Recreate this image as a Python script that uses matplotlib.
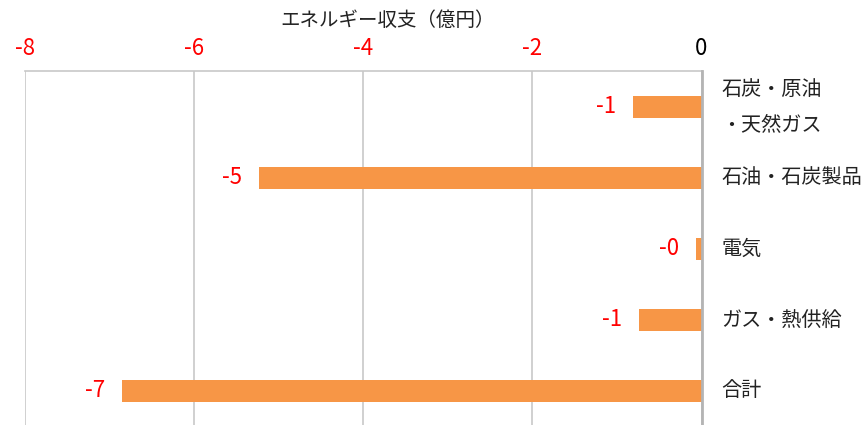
import matplotlib
matplotlib.use("Agg")
import matplotlib.pyplot as plt
import matplotlib.transforms as mtransforms

plt.rcParams['font.family'] = ['Noto Sans CJK JP', 'DejaVu Sans']
plt.rcParams['axes.unicode_minus'] = False

categories = ["石炭・原油\n・天然ガス", "石油・石炭製品", "電気", "ガス・熱供給", "合計"]
values = [-0.81, -5.23, -0.065, -0.74, -6.85]
x_ticks = [-8, -6, -4, -2, 0]
axis_title = "エネルギー収支（億円）"

W, H = 866, 425
fig = plt.figure(figsize=(W / 100, H / 100), dpi=100)
left, right, top, bottom = 24.5, 701.5, 71.5, 426.5
ax = fig.add_axes([left / W, 1 - bottom / H, (right - left) / W, (bottom - top) / H])

bar_color = "#F79646"
ypos = list(range(len(categories)))
ax.barh(ypos, values, height=0.31, color=bar_color, zorder=3)

ax.set_xlim(-8, 0)
ax.set_ylim(len(categories) - 0.5, -0.5)
ax.set_xticks(x_ticks)
ax.set_xticklabels([str(t) for t in x_ticks])
ax.xaxis.tick_top()
ax.tick_params(axis='x', length=0, pad=8, labelsize=16)
for lbl, t in zip(ax.get_xticklabels(), x_ticks):
    lbl.set_color("red" if t < 0 else "black")
ax.set_yticks([])

ax.grid(axis='x', color="#C8C8C8", linewidth=1.2, zorder=0)
for side in ("left", "bottom"):
    ax.spines[side].set_visible(False)
ax.spines["top"].set_color("#C8C8C8")
ax.spines["top"].set_linewidth(1.2)
ax.spines["right"].set_color("#B4B4B4")
ax.spines["right"].set_linewidth(2)
ax.spines["right"].set_zorder(4)

# category names to the right of the zero axis
off_right = mtransforms.offset_copy(ax.transData, fig=fig, x=20, y=0, units='dots')
for i, name in enumerate(categories):
    ax.text(0, i, name, transform=off_right, ha='left', va='center',
            fontsize=14.5, color="#222222", multialignment='center',
            linespacing=1.85, clip_on=False)

# value labels left of each bar
for i, v in enumerate(values):
    ax.annotate(f"{v:.0f}", xy=(v, i), xytext=(-17, 0), textcoords='offset pixels',
                ha='right', va='center', fontsize=16, color="red")

fig.text(388 / W, 1 - 20 / H, axis_title, ha='center', va='center',
         fontsize=14, color="#222222")

fig.savefig("out.png", dpi=100)
